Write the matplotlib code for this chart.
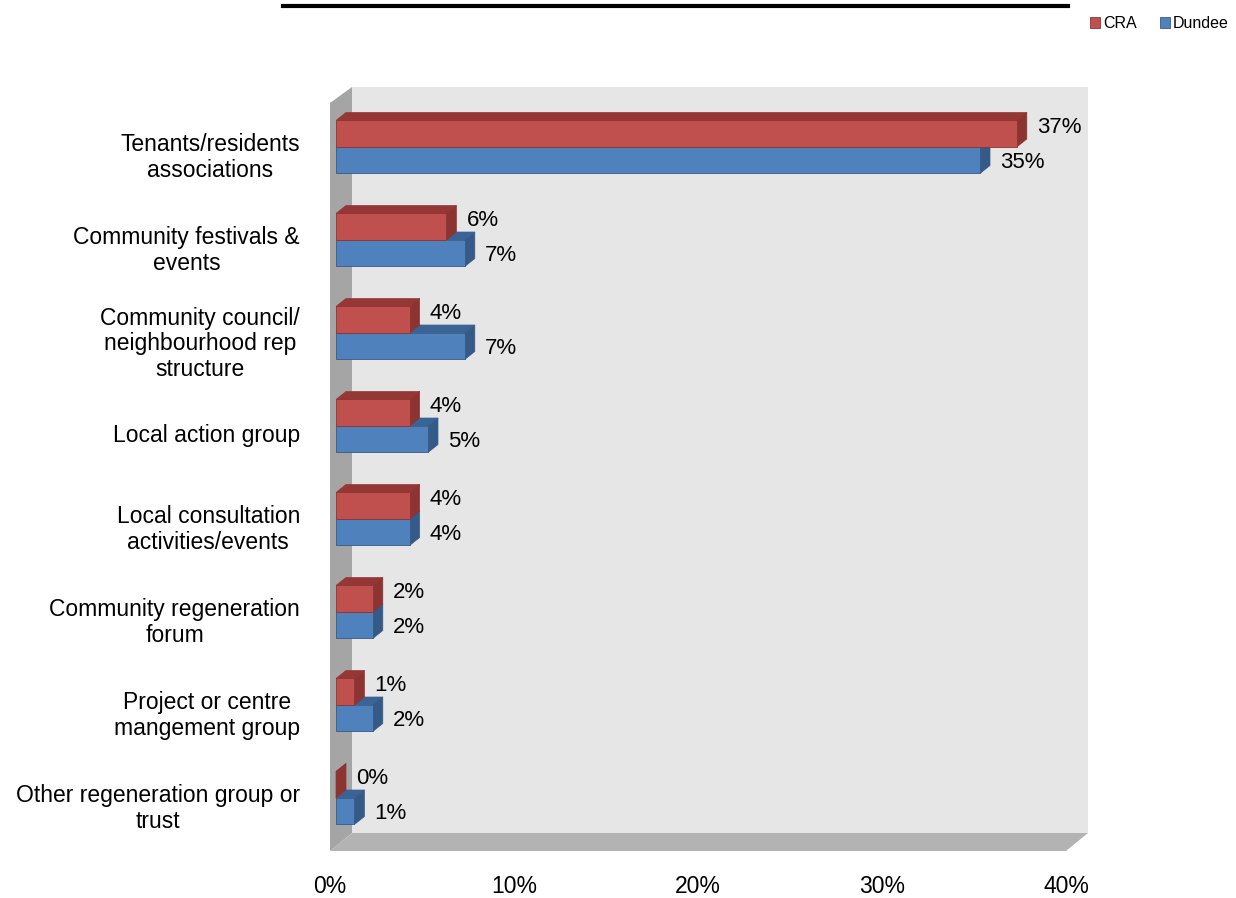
import matplotlib
matplotlib.use('Agg')
import matplotlib.pyplot as plt
from matplotlib.patches import Polygon
from matplotlib.lines import Line2D
from matplotlib.transforms import ScaledTranslation
import numpy as np

plt.rcParams['font.family'] = ['Liberation Sans', 'DejaVu Sans']

# data
categories = [
    'Tenants/residents\nassociations',
    'Community festivals &\nevents',
    'Community council/\nneighbourhood rep\nstructure',
    'Local action group',
    'Local consultation\nactivities/events',
    'Community regeneration\nforum',
    'Project or centre\nmangement group',
    'Other regeneration group or\ntrust',
]
cra = [37, 6, 4, 4, 4, 2, 1, 0]
dundee = [35, 7, 7, 5, 4, 2, 2, 1]
x_ticks = [0, 10, 20, 30, 40]
series_names = ['CRA', 'Dundee']

# colours (Excel 2007 default palette, 3D shading)
RED = '#c0504d'
RED_TOP = '#953735'
RED_SIDE = '#8c3432'
BLUE = '#4f81bd'
BLUE_TOP = '#3b6496'
BLUE_SIDE = '#365a87'
WALL = '#e6e6e6'
SIDE_WALL = '#a5a5a5'
FLOOR = '#b3b3b3'

# layout in pixels
W, H = 1236, 898
AX_L, AX_R, AX_T, AX_B = 336, 1072, 87, 851
ROW0, ROW_PX = 147, 93.0
px_x = (AX_R - AX_L) / 40.0


def dx(p):
    return p / px_x


def dy(p):
    return p / ROW_PX


fig = plt.figure(figsize=(W / 100, H / 100), dpi=100)
ax = fig.add_axes([AX_L / W, 1 - AX_B / H, (AX_R - AX_L) / W, (AX_B - AX_T) / H])
ax.set_xlim(0, 40)
y_bot = (AX_B - ROW0) / ROW_PX
y_top = (AX_T - ROW0) / ROW_PX
ax.set_ylim(y_bot, y_top)
ax.patch.set_visible(False)
for s in ax.spines.values():
    s.set_visible(False)

# 3D box: back wall, left wall, floor
xf0, xb0 = -dx(6), dx(16)
xf1, xb1 = 40 - dx(6), 40 + dx(16)
yb_back = y_bot - dy(18)
yt_front = y_top + dy(16)
box = [
    ([(xb0, y_top), (xb1, y_top), (xb1, yb_back), (xb0, yb_back)], WALL),
    ([(xf0, yt_front), (xb0, y_top), (xb0, yb_back), (xf0, y_bot)], SIDE_WALL),
    ([(xf0, y_bot), (xb0, yb_back), (xb1, yb_back), (xf1, y_bot)], FLOOR),
]
for pts, c in box:
    ax.add_patch(Polygon(pts, closed=True, facecolor=c, edgecolor='none',
                         zorder=1, clip_on=False))

# bars
ypos = np.arange(len(categories))
h = dy(26.5)
ddx, ddy = dx(10), dy(8)


def draw_bars(vals, centers, front, top, side, z, label_dy):
    bars = ax.barh(centers, vals, height=h, color=front, edgecolor=side,
                   linewidth=0.6, zorder=z + 0.5)
    for v, yc in zip(vals, centers):
        yt, yb = yc - h / 2, yc + h / 2
        ax.add_patch(Polygon([(0, yt), (v, yt), (v + ddx, yt - ddy), (ddx, yt - ddy)],
                             facecolor=top, edgecolor=top, lw=0.5, zorder=z, clip_on=False))
        ax.add_patch(Polygon([(v, yt), (v + ddx, yt - ddy), (v + ddx, yb - ddy), (v, yb)],
                             facecolor=side, edgecolor=side, lw=0.5, zorder=z, clip_on=False))
        ax.text(v + dx(20), yc + label_dy, f'{v}%', ha='left', va='center',
                fontsize=16, zorder=10)
    return bars


blue_bars = draw_bars(dundee, ypos + h / 2, BLUE, BLUE_TOP, BLUE_SIDE, 3, dy(2))
red_bars = draw_bars(cra, ypos - h / 2, RED, RED_TOP, RED_SIDE, 5, -dy(6))

# category labels
ax.set_yticks(ypos + dy(7))
ax.set_yticklabels(categories, fontsize=16.5, linespacing=1.15)
ax.tick_params(axis='y', length=0, pad=26)
for lab in ax.get_yticklabels():
    lab.set_multialignment('center')

# percentage axis along the front edge of the floor
ax.set_xticks(x_ticks)
ax.set_xticklabels([f'{t}%' for t in x_ticks], fontsize=16.5)
ax.tick_params(axis='x', length=0, pad=17)
shift = ScaledTranslation(-6 / 100, 0, fig.dpi_scale_trans)
for lab in ax.get_xticklabels():
    lab.set_transform(lab.get_transform() + shift)

ax.legend([red_bars, blue_bars], series_names, loc='upper right',
          bbox_to_anchor=(1229 / W, 1 - 16 / H), bbox_transform=fig.transFigure,
          ncol=2, frameon=False, fontsize=11.5, handlelength=0.65, handleheight=0.65,
          handletextpad=0.2, columnspacing=1.4, borderaxespad=0, borderpad=0)

# underline of the heading
fig.add_artist(Line2D([283 / W, 1068 / W], [1 - 6 / H, 1 - 6 / H],
                      color='black', lw=3, transform=fig.transFigure))

fig.savefig('out.png', dpi=100)
